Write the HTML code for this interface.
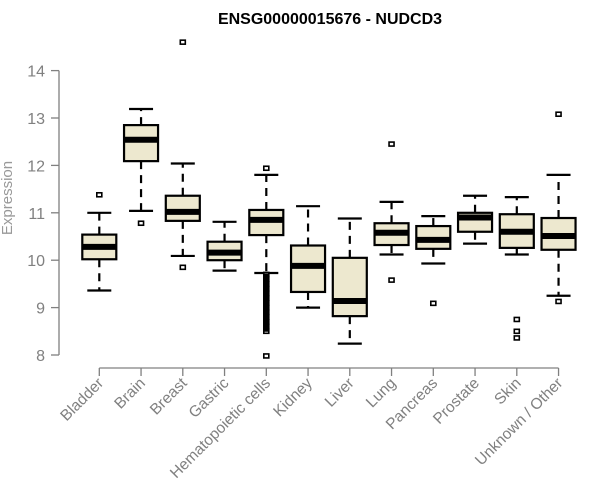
<!DOCTYPE html>
<html><head><meta charset="utf-8"><style>
html,body{margin:0;padding:0;background:#fff;}
svg{display:block;font-family:"Liberation Sans",sans-serif;}
</style></head><body>
<svg id="chart" width="600" height="500" viewBox="0 0 600 500">
<text x="330" y="24" text-anchor="middle" font-size="16" font-weight="bold" fill="#000">ENSG00000015676 - NUDCD3</text>
<text transform="translate(12,198) rotate(-90)" text-anchor="middle" font-size="15" fill="#999">Expression</text>
<g id="axes"></g>
<g id="boxes"></g>
</svg>
<script>
const categories=["Bladder","Brain","Breast","Gastric","Hematopoietic cells","Kidney","Liver","Lung","Pancreas","Prostate","Skin","Unknown / Other"];
const whiskerLow=[9.36,11.04,10.09,9.78,9.73,9.0,8.24,10.12,9.93,10.35,10.12,9.25];
const q1=[10.02,12.09,10.83,10.0,10.53,9.33,8.82,10.32,10.24,10.6,10.26,10.22];
const medians=[10.28,12.54,11.02,10.16,10.85,9.88,9.14,10.58,10.43,10.9,10.6,10.51];
const q3=[10.54,12.85,11.36,10.39,11.06,10.31,10.05,10.78,10.72,11.0,10.97,10.89];
const whiskerHigh=[11.0,13.19,12.04,10.81,11.8,11.14,10.88,11.23,10.93,11.36,11.33,11.8];
const outliers=[[11.38],[10.78],[14.6,9.85],[],[11.94,7.98,9.7,9.6,9.5,9.4,9.3,9.2,9.1,9.0,8.9,8.8,8.7,8.6,8.5],[],[],[12.45,9.58],[9.09],[],[8.75,8.5,8.36],[13.08,9.13]];
const yTicks=[8,9,10,11,12,13,14];

const NS="http://www.w3.org/2000/svg";
const y=v=>355-(v-8)*47.4;
const x=i=>99.3+i*41.75;
function mk(tag,attrs,parent){const e=document.createElementNS(NS,tag);for(const k in attrs)e.setAttribute(k,attrs[k]);parent.appendChild(e);return e;}
const axes=document.getElementById('axes'),boxes=document.getElementById('boxes');
const gray="#808080";
let ya=mk('line',{x1:59,x2:59,y1:y(14),y2:y(8),stroke:gray,'stroke-width':1.3},axes);


yTicks.forEach(t=>{
  let l=mk('line',{x1:51,x2:59,y1:y(t),y2:y(t),stroke:gray,'stroke-width':1.3},axes);
  
  
  let tx=mk('text',{x:45,y:y(t)+6,'text-anchor':'end','font-size':16,fill:gray},axes);
  tx.textContent=t;
  
  
});
let xa=mk('line',{x1:x(0),x2:x(categories.length-1),y1:368,y2:368,stroke:gray,'stroke-width':1.3},axes);


categories.forEach((c,i)=>{
  let l=mk('line',{x1:x(i),x2:x(i),y1:368,y2:376,stroke:gray,'stroke-width':1.3},axes);
  
  
  let tx=mk('text',{transform:`translate(${x(i)+5},${384}) rotate(-45)`,'text-anchor':'end','font-size':15.5,fill:gray},axes);
  tx.textContent=c;
  
  
});
const hw=17, cw=12;
categories.forEach((c,i)=>{
  const g=mk('g',{},boxes);
  
  
  const cx=x(i);
  mk('line',{x1:cx,x2:cx,y1:y(q3[i]),y2:y(whiskerHigh[i]),stroke:'#000','stroke-width':2.2,'stroke-dasharray':'8,6'},g);
  mk('line',{x1:cx,x2:cx,y1:y(q1[i]),y2:y(whiskerLow[i]),stroke:'#000','stroke-width':2.2,'stroke-dasharray':'8,6'},g);
  mk('line',{x1:cx-cw,x2:cx+cw,y1:y(whiskerHigh[i]),y2:y(whiskerHigh[i]),stroke:'#000','stroke-width':2.2},g);
  mk('line',{x1:cx-cw,x2:cx+cw,y1:y(whiskerLow[i]),y2:y(whiskerLow[i]),stroke:'#000','stroke-width':2.2},g);
  mk('rect',{x:cx-hw,y:y(q3[i]),width:2*hw,height:y(q1[i])-y(q3[i]),fill:'#ede8cf',stroke:'#000','stroke-width':2.2},g);
  mk('line',{x1:cx-hw,x2:cx+hw,y1:y(medians[i]),y2:y(medians[i]),stroke:'#000','stroke-width':6},g);
  outliers[i].forEach(o=>{
    const r=mk('rect',{x:cx-2.5,y:y(o)-2,width:5,height:4,fill:'#fff',stroke:'#000','stroke-width':1.6},g);
    
    
  });
});
(function(){
  const i=4,cx=x(i);
  const b=mk('rect',{x:cx-3,y:y(9.72),width:6,height:y(8.49)-y(9.72),fill:'#000'},boxes);
  
  
})();
</script>
</body></html>
